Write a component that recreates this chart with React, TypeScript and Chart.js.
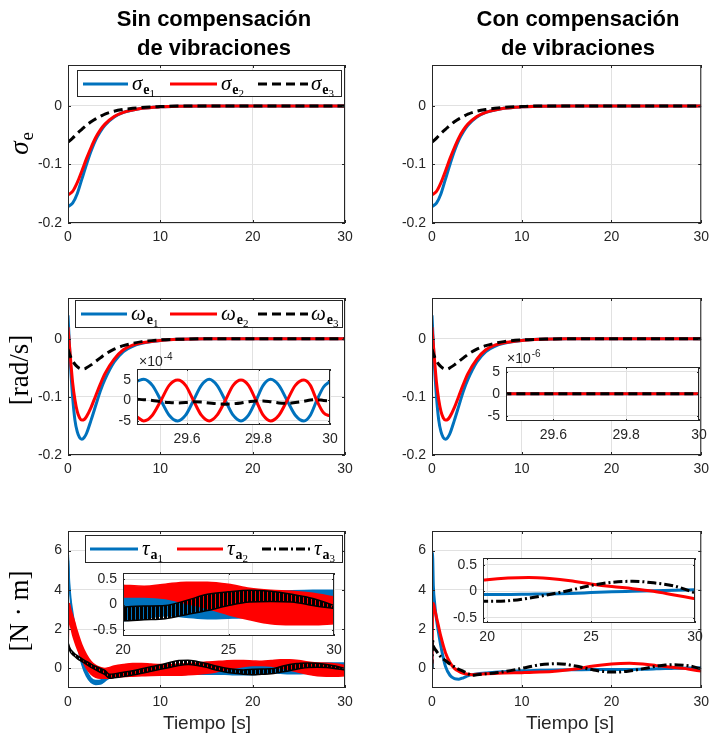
import React, { useEffect, useRef } from 'react';
import { Chart, registerables } from 'chart.js';
Chart.register(...registerables);

const W = 715;
const H = 740;
const BLUE = '#0072BD';
const RED = '#FF0000';
const BLACK = '#000000';
const AX = '#262626';
const GRID = '#e1e1e1';
const SANS = '"Liberation Sans", Arial, Helvetica, sans-serif';
const SERIF = '"Liberation Serif", "Times New Roman", serif';

// ---------- tick labels ----------
const xTicksMain = [0, 10, 20, 30];
const yTicksSigma = [-0.2, -0.1, 0];
const yTicksOmega = [-0.2, -0.1, 0];
const yTicksTau = [0, 2, 4, 6];
const xTicksOmInset = [29.6, 29.8, 30];
const yTicksOmInset = [-5, 0, 5];
const xTicksTauInset = [20, 25, 30];
const yTicksTauInset = [-0.5, 0, 0.5];

// ---------- sigma_e ----------
const tSigma = [0, 0.5, 1, 1.5, 2, 2.5, 3, 3.5, 4, 5, 6, 7, 8, 10, 12, 15, 20, 25, 30];
const sigma1 = [-0.172, -0.166, -0.15, -0.125, -0.1, -0.077, -0.058, -0.044, -0.033, -0.019, -0.011, -0.007, -0.004, -0.0015, -0.0005, 0, 0, 0, 0];
const sigma2 = [-0.152, -0.146, -0.131, -0.111, -0.09, -0.071, -0.054, -0.041, -0.031, -0.018, -0.011, -0.007, -0.004, -0.0015, -0.0005, 0, 0, 0, 0];
const sigma3 = [-0.062, -0.055, -0.047, -0.04, -0.033, -0.027, -0.022, -0.018, -0.014, -0.009, -0.006, -0.004, -0.0025, -0.001, 0, 0, 0, 0, 0];

// ---------- omega_e ----------
const tOmega = [0, 0.25, 0.5, 0.75, 1, 1.25, 1.5, 1.75, 2, 2.5, 3, 3.5, 4, 5, 6, 7, 8, 10, 12, 15, 20, 25, 30];
const omega1 = [0.04, -0.04, -0.1, -0.14, -0.16, -0.17, -0.173, -0.17, -0.163, -0.14, -0.115, -0.09, -0.07, -0.04, -0.022, -0.013, -0.008, -0.003, -0.001, 0, 0, 0, 0];
const omega2 = [0.02, -0.03, -0.075, -0.105, -0.125, -0.136, -0.14, -0.139, -0.134, -0.118, -0.098, -0.078, -0.06, -0.035, -0.019, -0.011, -0.007, -0.003, -0.001, 0, 0, 0, 0];
const omega3 = [-0.018, -0.03, -0.038, -0.044, -0.048, -0.051, -0.052, -0.052, -0.05, -0.045, -0.039, -0.033, -0.027, -0.018, -0.012, -0.008, -0.005, -0.002, -0.001, 0, 0, 0, 0];

// omega inset (x10^-4), without compensation
const tOmInset = [29.46, 29.479, 29.503, 29.527, 29.55, 29.574, 29.596, 29.618, 29.64, 29.662, 29.684, 29.707, 29.729, 29.751, 29.772, 29.793, 29.813, 29.834, 29.857, 29.88, 29.903, 29.927, 29.945, 29.963, 29.982, 30.0];
const om1Inset = [4.7, 5.2, 3.7, 0, -3.6, -5.0, -3.6, 0, 3.7, 5.2, 3.7, 0, -3.6, -5.0, -3.6, 0, 3.7, 5.2, 3.7, 0, -3.6, -5.0, -3.6, 0, 3.3, 4.7];
const om2Inset = [-4.0, -5.0, -3.6, 0, 3.7, 5.0, 3.7, 0, -3.6, -5.0, -3.6, 0, 3.7, 5.0, 3.7, 0, -3.6, -5.0, -3.6, 0, 3.7, 5.0, 3.7, 0, -3.0, -3.8];
const om3Inset = [0.3, 0.2, 0, -0.3, -0.5, -0.6, -0.5, -0.3, -0.4, -0.6, -0.8, -0.9, -0.8, -0.6, -0.3, -0.1, -0.1, -0.3, -0.6, -0.7, -0.5, -0.2, 0.1, 0.2, 0.0, -0.1];
// omega inset (x10^-6), with compensation
const tOmInsetC = [29.46, 30.0];
const omInsetC = [0, 0];

// ---------- tau_a without compensation (oscillation envelopes) ----------
const tTauL = [0, 0.05, 0.15, 0.3, 0.5, 0.7, 1, 1.5, 2, 2.5, 3, 3.5, 4, 4.5, 5, 6, 7, 8, 9, 10, 11, 12, 13, 14, 15, 16, 17, 18, 19, 20, 21, 22, 23, 24, 25, 26, 27, 28, 29, 30];
const tau1HiL = [0, 5.8, 4.5, 3.6, 2.9, 2.3, 1.6, 0.6, -0.1, -0.5, -0.62, -0.6, -0.45, -0.28, -0.12, 0.0, 0.05, 0.08, 0.1, 0.1, 0.1, 0.1, 0.1, 0.12, 0.12, 0.13, 0.15, 0.15, 0.15, 0.15, 0.17, 0.18, 0.15, 0.12, 0.18, 0.22, 0.25, 0.27, 0.28, 0.28];
const tau1LoL = [0, 5.5, 4.2, 3.3, 2.5, 1.9, 1.2, 0.2, -0.4, -0.72, -0.82, -0.8, -0.65, -0.48, -0.38, -0.32, -0.3, -0.3, -0.3, -0.3, -0.3, -0.3, -0.3, -0.3, -0.3, -0.3, -0.3, -0.32, -0.32, -0.32, -0.28, -0.22, -0.25, -0.28, -0.27, -0.25, -0.2, -0.1, -0.05, -0.05];
const tau2HiL = [0.1, 2.6, 3.3, 3.0, 2.7, 2.4, 1.9, 1.2, 0.7, 0.35, 0.15, 0.05, 0.0, 0.05, 0.12, 0.2, 0.25, 0.25, 0.22, 0.2, 0.2, 0.22, 0.25, 0.28, 0.32, 0.35, 0.38, 0.4, 0.4, 0.38, 0.36, 0.4, 0.44, 0.44, 0.4, 0.32, 0.28, 0.26, 0.22, 0.15];
const tau2LoL = [0.1, 2.0, 2.4, 2.1, 1.7, 1.4, 1.0, 0.45, 0.0, -0.3, -0.45, -0.5, -0.5, -0.5, -0.45, -0.42, -0.4, -0.38, -0.36, -0.35, -0.35, -0.35, -0.33, -0.3, -0.25, -0.18, -0.08, 0.02, 0.1, 0.15, 0.15, 0.12, 0.02, -0.08, -0.2, -0.3, -0.38, -0.4, -0.4, -0.38];
const tau3HiL = [0, 1.25, 1.1, 0.95, 0.85, 0.75, 0.65, 0.5, 0.35, 0.22, 0.1, 0.0, -0.1, -0.3, -0.28, -0.2, -0.12, -0.02, 0.08, 0.18, 0.3, 0.4, 0.42, 0.35, 0.25, 0.12, 0.02, -0.05, -0.08, -0.05, -0.03, -0.02, 0.08, 0.2, 0.25, 0.28, 0.26, 0.2, 0.12, -0.02];
const tau3LoL = [0, 1.05, 0.95, 0.8, 0.7, 0.62, 0.5, 0.35, 0.2, 0.05, -0.08, -0.2, -0.32, -0.5, -0.48, -0.42, -0.34, -0.25, -0.15, -0.05, 0.05, 0.15, 0.2, 0.15, 0.05, -0.08, -0.18, -0.25, -0.3, -0.32, -0.3, -0.28, -0.2, -0.12, -0.02, 0.05, 0.06, 0.05, -0.02, -0.08];

// ---------- tau_a with compensation ----------
const tTauR = [0, 0.05, 0.15, 0.3, 0.5, 0.7, 1, 1.5, 2, 2.5, 3, 3.5, 4, 4.5, 5, 6, 7, 8, 10, 12, 14, 16, 18, 20, 21, 22, 23, 24, 25, 26, 27, 28, 29, 30];
const tau1R = [0, 5.9, 4.2, 3.3, 2.5, 1.9, 1.1, 0.1, -0.35, -0.52, -0.55, -0.48, -0.38, -0.32, -0.28, -0.24, -0.2, -0.17, -0.12, -0.1, -0.08, -0.07, -0.06, -0.06, -0.06, -0.055, -0.05, -0.04, -0.025, -0.01, 0.0, 0.01, 0.02, 0.03];
const tau2R = [0.25, 2.8, 3.3, 3.0, 2.6, 2.2, 1.6, 0.8, 0.3, 0.0, -0.15, -0.25, -0.3, -0.32, -0.3, -0.28, -0.26, -0.24, -0.22, -0.19, -0.13, -0.03, 0.12, 0.22, 0.25, 0.26, 0.24, 0.2, 0.14, 0.09, 0.05, 0.0, -0.07, -0.14];
const tau3R = [0, 1.45, 1.15, 1.0, 0.88, 0.75, 0.58, 0.4, 0.22, 0.08, -0.05, -0.15, -0.27, -0.35, -0.33, -0.28, -0.23, -0.17, 0.0, 0.18, 0.24, 0.12, -0.08, -0.19, -0.18, -0.13, -0.06, 0.02, 0.11, 0.17, 0.19, 0.16, 0.1, -0.03];

// ---------- helpers ----------
type Rect = { l: number; t: number; r: number; b: number };

const DASH = [9, 5];
const DASHDOT = [9, 3, 2, 3];

function pts(xs: number[], ys: number[]) {
  return xs.map((x, i) => ({ x, y: ys[i] }));
}

// striped fill imitating a densely oscillating dash-dot line
function stripes(color: string, period: number, on: number): any {
  const c = document.createElement('canvas');
  c.width = period;
  c.height = period;
  const g = c.getContext('2d') as CanvasRenderingContext2D;
  g.fillStyle = color;
  g.fillRect(0, 0, on, period);
  return g.createPattern(c, 'repeat') || color;
}

// order: higher value drawn first (underneath)
function line(xs: number[], ys: number[], color: string, order: number, dash: number[] = [], width = 3) {
  return {
    data: pts(xs, ys),
    order,
    borderColor: color,
    backgroundColor: color,
    borderWidth: width,
    borderDash: dash,
    pointRadius: 0,
    fill: false,
    cubicInterpolationMode: 'monotone',
    borderCapStyle: 'butt',
    borderJoinStyle: 'round',
  };
}

function band(xs: number[], hi: number[], lo: number[], color: string, order: number, fillStyle: any) {
  return [
    { ...line(xs, hi, color, order, [], 1.5) },
    { ...line(xs, lo, color, order, [], 1.5), fill: '-1', backgroundColor: fillStyle },
  ];
}

function fmt(v: number) {
  return String(v);
}

function drawSym(ctx: CanvasRenderingContext2D, x: number, y: number, base: string, sub: string, subsub: string, size: number) {
  ctx.textBaseline = 'alphabetic';
  ctx.textAlign = 'left';
  ctx.fillStyle = '#000';
  ctx.font = `italic ${size}px ${SERIF}`;
  ctx.fillText(base, x, y);
  x += ctx.measureText(base).width + 1;
  ctx.font = `bold ${Math.round(size * 0.68)}px ${SERIF}`;
  ctx.fillText(sub, x, y + size * 0.2);
  x += ctx.measureText(sub).width;
  ctx.font = `${Math.round(size * 0.5)}px ${SERIF}`;
  ctx.fillText(subsub, x, y + size * 0.32);
}

type LegItem = { color: string; dash: number[]; x1: number; x2: number; lx: number; base: string; sub: string; subsub: string };

function drawLegend(ctx: CanvasRenderingContext2D, box: Rect, y: number, items: LegItem[]) {
  ctx.save();
  ctx.fillStyle = '#ffffff';
  ctx.fillRect(box.l, box.t, box.r - box.l, box.b - box.t);
  ctx.strokeStyle = AX;
  ctx.lineWidth = 1;
  ctx.strokeRect(box.l + 0.5, box.t + 0.5, box.r - box.l - 1, box.b - box.t - 1);
  for (const it of items) {
    ctx.beginPath();
    ctx.setLineDash(it.dash);
    ctx.strokeStyle = it.color;
    ctx.lineWidth = 3;
    ctx.moveTo(it.x1, y);
    ctx.lineTo(it.x2, y);
    ctx.stroke();
    ctx.setLineDash([]);
    drawSym(ctx, it.lx, y + 6, it.base, it.sub, it.subsub, 21);
  }
  ctx.restore();
}

function rotatedText(ctx: CanvasRenderingContext2D, cx: number, cy: number, draw: (c: CanvasRenderingContext2D) => void) {
  ctx.save();
  ctx.translate(cx, cy);
  ctx.rotate(-Math.PI / 2);
  draw(ctx);
  ctx.restore();
}

function drawExponent(ctx: CanvasRenderingContext2D, x: number, y: number, exp: string) {
  ctx.save();
  ctx.fillStyle = AX;
  ctx.textBaseline = 'alphabetic';
  ctx.textAlign = 'left';
  ctx.font = `14px ${SANS}`;
  ctx.fillText('\u00d710', x, y);
  const w = ctx.measureText('\u00d710').width;
  ctx.font = `10px ${SANS}`;
  ctx.fillText(exp, x + w + 1, y - 6);
  ctx.restore();
}

type PanelProps = {
  rect: Rect;
  xr: [number, number];
  yr: [number, number];
  xt: number[];
  yt: number[];
  makeSets: () => any[];
  inset?: boolean;
  draw?: (ctx: CanvasRenderingContext2D) => void;
};

function Panel(p: PanelProps) {
  const ref = useRef<HTMLCanvasElement>(null);
  useEffect(() => {
    const YW = 50;
    const XH = 30;
    const r = p.rect;
    const tickLen = p.inset ? 2 : 3;
    const bg = {
      id: 'bgfill',
      beforeDraw(chart: any) {
        const a = chart.chartArea;
        const c = chart.ctx;
        c.save();
        c.fillStyle = '#ffffff';
        c.fillRect(a.left, a.top, a.right - a.left, a.bottom - a.top);
        c.restore();
      },
    };
    const box = {
      id: 'mlbox',
      afterDatasetsDraw(chart: any) {
        const a = chart.chartArea;
        const c = chart.ctx as CanvasRenderingContext2D;
        const xs = chart.scales.x;
        const ys = chart.scales.y;
        c.save();
        c.strokeStyle = AX;
        c.lineWidth = 1;
        c.strokeRect(a.left + 0.5, a.top + 0.5, a.right - a.left - 1, a.bottom - a.top - 1);
        c.beginPath();
        for (const v of p.xt) {
          const px = Math.round(xs.getPixelForValue(v)) + 0.5;
          c.moveTo(px, a.bottom);
          c.lineTo(px, a.bottom - tickLen);
          c.moveTo(px, a.top);
          c.lineTo(px, a.top + tickLen);
        }
        for (const v of p.yt) {
          const py = Math.round(ys.getPixelForValue(v)) + 0.5;
          c.moveTo(a.left, py);
          c.lineTo(a.left + tickLen, py);
          c.moveTo(a.right, py);
          c.lineTo(a.right - tickLen, py);
        }
        c.stroke();
        c.restore();
      },
    };
    const extra = {
      id: 'extra',
      afterDraw(chart: any) {
        if (p.draw) p.draw(chart.ctx);
      },
    };
    const tickFont = { family: SANS, size: 14 };
    const chart = new Chart(ref.current as HTMLCanvasElement, {
      type: 'line',
      data: { datasets: p.makeSets() },
      options: {
        responsive: false,
        animation: false,
        devicePixelRatio: 1,
        events: [],
        layout: { padding: { left: r.l - YW, top: r.t, right: W - r.r, bottom: H - r.b - XH } },
        plugins: { legend: { display: false }, tooltip: { enabled: false } },
        scales: {
          x: {
            type: 'linear',
            min: p.xr[0],
            max: p.xr[1],
            grid: { color: GRID, drawTicks: false, lineWidth: 1 },
            border: { display: false },
            ticks: { color: AX, font: tickFont, padding: 6, maxRotation: 0, autoSkip: false, callback: (v: any) => fmt(v) },
            afterBuildTicks: (s: any) => {
              s.ticks = p.xt.map((v) => ({ value: v }));
            },
            afterFit: (s: any) => {
              s.height = XH;
            },
          },
          y: {
            type: 'linear',
            min: p.yr[0],
            max: p.yr[1],
            grid: { color: GRID, drawTicks: false, lineWidth: 1 },
            border: { display: false },
            ticks: { color: AX, font: tickFont, padding: 6, autoSkip: false, callback: (v: any) => fmt(v) },
            afterBuildTicks: (s: any) => {
              s.ticks = p.yt.map((v) => ({ value: v }));
            },
            afterFit: (s: any) => {
              s.width = YW;
            },
          },
        },
      } as any,
      plugins: [bg, box, extra],
    });
    return () => chart.destroy();
  }, []);
  return <canvas ref={ref} width={W} height={H} style={{ position: 'absolute', left: 0, top: 0, width: W, height: H }} />;
}

// ---------- panel geometry ----------
const R_TL: Rect = { l: 68, t: 65, r: 345, b: 223 };
const R_TR: Rect = { l: 432, t: 65, r: 707, b: 223 };
const R_ML: Rect = { l: 68, t: 298, r: 345, b: 455 };
const R_MR: Rect = { l: 432, t: 298, r: 707, b: 455 };
const R_BL: Rect = { l: 68, t: 531, r: 345, b: 688 };
const R_BR: Rect = { l: 432, t: 531, r: 707, b: 688 };
const R_IML: Rect = { l: 137, t: 369, r: 330, b: 425 };
const R_IMR: Rect = { l: 506, t: 367, r: 699, b: 421 };
const R_IBL: Rect = { l: 123, t: 573, r: 334, b: 636 };
const R_IBR: Rect = { l: 483, t: 558, r: 695, b: 623 };

function sigmaSets() {
  return [line(tSigma, sigma1, BLUE, 3), line(tSigma, sigma2, RED, 2), line(tSigma, sigma3, BLACK, 1, DASH)];
}
function omegaSets() {
  return [line(tOmega, omega1, BLUE, 3), line(tOmega, omega2, RED, 2), line(tOmega, omega3, BLACK, 1, DASH)];
}
function tauLSets() {
  return [
    ...band(tTauL, tau1HiL, tau1LoL, BLUE, 3, BLUE),
    ...band(tTauL, tau2HiL, tau2LoL, RED, 2, RED),
    ...band(tTauL, tau3HiL, tau3LoL, BLACK, 1, stripes(BLACK, 4, 3)),
  ];
}
function tauRSets() {
  return [line(tTauR, tau1R, BLUE, 3), line(tTauR, tau2R, RED, 2), line(tTauR, tau3R, BLACK, 1, DASHDOT)];
}
function omInsetSets() {
  return [line(tOmInset, om1Inset, BLUE, 3), line(tOmInset, om2Inset, RED, 2), line(tOmInset, om3Inset, BLACK, 1, DASH)];
}
function omInsetCSets() {
  return [line(tOmInsetC, omInsetC, BLUE, 3), line(tOmInsetC, omInsetC, RED, 2), line(tOmInsetC, omInsetC, BLACK, 1, DASH)];
}

function drawSigmaLabel(ctx: CanvasRenderingContext2D) {
  rotatedText(ctx, 23, 144, (c) => {
    c.fillStyle = '#000';
    c.textBaseline = 'alphabetic';
    c.font = `italic 27px ${SERIF}`;
    const w1 = c.measureText('\u03c3').width;
    c.font = `19px ${SERIF}`;
    const w2 = c.measureText('e').width;
    const x0 = -(w1 + w2) / 2;
    c.font = `italic 27px ${SERIF}`;
    c.fillText('\u03c3', x0, 5);
    c.font = `19px ${SERIF}`;
    c.fillText('e', x0 + w1 + 1, 10);
  });
}
function drawPlainYLabel(ctx: CanvasRenderingContext2D, cx: number, cy: number, text: string) {
  rotatedText(ctx, cx, cy, (c) => {
    c.fillStyle = '#000';
    c.textBaseline = 'middle';
    c.textAlign = 'center';
    c.font = `27px ${SERIF}`;
    c.fillText(text, 0, 0);
  });
}

const legSigma = (ctx: CanvasRenderingContext2D) =>
  drawLegend(ctx, { l: 77, t: 70, r: 342, b: 97 }, 84, [
    { color: BLUE, dash: [], x1: 83, x2: 128, lx: 132, base: '\u03c3', sub: 'e', subsub: '1' },
    { color: RED, dash: [], x1: 170, x2: 217, lx: 221, base: '\u03c3', sub: 'e', subsub: '2' },
    { color: BLACK, dash: DASH, x1: 258, x2: 308, lx: 311, base: '\u03c3', sub: 'e', subsub: '3' },
  ]);
const legOmega = (ctx: CanvasRenderingContext2D) =>
  drawLegend(ctx, { l: 75, t: 300, r: 343, b: 328 }, 314, [
    { color: BLUE, dash: [], x1: 81, x2: 127, lx: 131, base: '\u03c9', sub: 'e', subsub: '1' },
    { color: RED, dash: [], x1: 170, x2: 217, lx: 221, base: '\u03c9', sub: 'e', subsub: '2' },
    { color: BLACK, dash: DASH, x1: 258, x2: 308, lx: 311, base: '\u03c9', sub: 'e', subsub: '3' },
  ]);
const legTau = (ctx: CanvasRenderingContext2D) =>
  drawLegend(ctx, { l: 85, t: 535, r: 343, b: 563 }, 549, [
    { color: BLUE, dash: [], x1: 90, x2: 138, lx: 142, base: '\u03c4', sub: 'a', subsub: '1' },
    { color: RED, dash: [], x1: 177, x2: 223, lx: 227, base: '\u03c4', sub: 'a', subsub: '2' },
    { color: BLACK, dash: DASHDOT, x1: 262, x2: 310, lx: 314, base: '\u03c4', sub: 'a', subsub: '3' },
  ]);

const titleStyle: React.CSSProperties = {
  position: 'absolute',
  top: 4,
  width: 300,
  textAlign: 'center',
  fontFamily: SANS,
  fontWeight: 'bold',
  fontSize: 22,
  lineHeight: '29px',
  color: '#000',
};
const xlabStyle: React.CSSProperties = {
  position: 'absolute',
  top: 711,
  width: 200,
  textAlign: 'center',
  fontFamily: SANS,
  fontSize: 19,
  lineHeight: '24px',
  color: AX,
};

export default function App() {
  return (
    <div style={{ position: 'absolute', left: 0, top: 0, width: W, height: H, background: '#fff', overflow: 'hidden' }}>
      <Panel rect={R_TL} xr={[0, 30]} yr={[-0.2, 0.07]} xt={xTicksMain} yt={yTicksSigma} makeSets={sigmaSets}
        draw={(ctx) => { legSigma(ctx); drawSigmaLabel(ctx); }} />
      <Panel rect={R_TR} xr={[0, 30]} yr={[-0.2, 0.07]} xt={xTicksMain} yt={yTicksSigma} makeSets={sigmaSets} />
      <Panel rect={R_ML} xr={[0, 30]} yr={[-0.2, 0.07]} xt={xTicksMain} yt={yTicksOmega} makeSets={omegaSets}
        draw={(ctx) => { legOmega(ctx); drawPlainYLabel(ctx, 21, 370, '[rad/s]'); }} />
      <Panel rect={R_MR} xr={[0, 30]} yr={[-0.2, 0.07]} xt={xTicksMain} yt={yTicksOmega} makeSets={omegaSets} />
      <Panel rect={R_BL} xr={[0, 30]} yr={[-1, 7]} xt={xTicksMain} yt={yTicksTau} makeSets={tauLSets}
        draw={(ctx) => { legTau(ctx); drawPlainYLabel(ctx, 21, 611, '[N \u00b7 m]'); }} />
      <Panel rect={R_BR} xr={[0, 30]} yr={[-1, 7]} xt={xTicksMain} yt={yTicksTau} makeSets={tauRSets} />
      <Panel rect={R_IML} inset xr={[29.46, 30]} yr={[-6, 7.7]} xt={xTicksOmInset} yt={yTicksOmInset} makeSets={omInsetSets}
        draw={(ctx) => drawExponent(ctx, 139, 366, '-4')} />
      <Panel rect={R_IMR} inset xr={[29.47, 30]} yr={[-6.2, 6.1]} xt={xTicksOmInset} yt={yTicksOmInset} makeSets={omInsetCSets}
        draw={(ctx) => drawExponent(ctx, 507, 363, '-6')} />
      <Panel rect={R_IBL} inset xr={[20, 30]} yr={[-0.62, 0.62]} xt={xTicksTauInset} yt={yTicksTauInset} makeSets={tauLSets} />
      <Panel rect={R_IBR} inset xr={[19.8, 30]} yr={[-0.6, 0.63]} xt={xTicksTauInset} yt={yTicksTauInset} makeSets={tauRSets} />
      <div style={{ ...titleStyle, left: 64 }}>Sin compensación<br />de vibraciones</div>
      <div style={{ ...titleStyle, left: 428 }}>Con compensación<br />de vibraciones</div>
      <div style={{ ...xlabStyle, left: 107 }}>Tiempo [s]</div>
      <div style={{ ...xlabStyle, left: 470 }}>Tiempo [s]</div>
    </div>
  );
}
